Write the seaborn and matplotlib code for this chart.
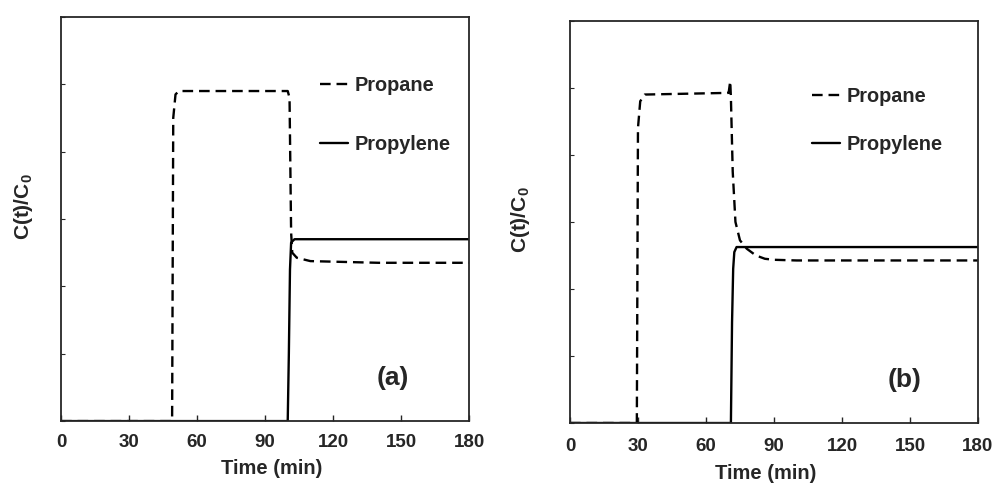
"""Propane / propylene breakthrough curves, panels (a) and (b)"""
import matplotlib
matplotlib.use("Agg")
import matplotlib.pyplot as plt
import seaborn as sns

# panel (a): time (min) and C(t)/C0
a_propane_t = [0, 49, 49.5, 50.5, 52, 100, 100.8, 101.5, 102, 104, 110, 140, 180]
a_propane_c = [0, 0, 0.90, 0.97, 0.98, 0.98, 0.96, 0.56, 0.50, 0.485, 0.475, 0.47, 0.47]
a_propylene_t = [0, 100, 100.5, 101, 101.5, 103, 180]
a_propylene_c = [0, 0, 0.20, 0.45, 0.53, 0.54, 0.54]

# panel (b)
b_propane_t = [0, 29.5, 30, 31, 33, 70, 70.7, 71, 71.8, 73, 75, 78, 82, 86, 90, 100, 180]
b_propane_c = [0, 0, 0.88, 0.96, 0.98, 0.985, 1.02, 0.97, 0.75, 0.60, 0.545, 0.52, 0.50, 0.49, 0.487, 0.485, 0.485]
b_propylene_t = [0, 71, 71.5, 72, 72.5, 73.5, 180]
b_propylene_c = [0, 0, 0.30, 0.46, 0.51, 0.525, 0.525]

x_ticks = [0, 30, 60, 90, 120, 150, 180]
y_ticks = [0, 0.2, 0.4, 0.6, 0.8, 1.0, 1.2]
panel_tags = ["(a)", "(b)"]

sns.set_style("ticks")
plt.rcParams['font.family'] = ['Liberation Sans', 'DejaVu Sans']
plt.rcParams['font.weight'] = 'bold'
plt.rcParams['mathtext.fontset'] = 'custom'
plt.rcParams['mathtext.rm'] = 'Liberation Sans:bold'
plt.rcParams['mathtext.bf'] = 'Liberation Sans:bold'

fig = plt.figure(figsize=(9.94, 4.84), dpi=100)
ax_a = fig.add_axes([0.0614, 0.130, 0.4105, 0.835])
ax_b = fig.add_axes([0.5734, 0.126, 0.4105, 0.831])

panels = [
    (ax_a, a_propane_t, a_propane_c, a_propylene_t, a_propylene_c),
    (ax_b, b_propane_t, b_propane_c, b_propylene_t, b_propylene_c),
]
# layout tweaks per panel (axes fraction)
ylabel_xy = [(-0.064, 0.53), (-0.094, 0.505)]
xlabel_xy = [(0.517, -0.093), (0.48, -0.103)]
tag_xy = [(0.814, 0.106), (0.819, 0.107)]
legend_xy = [(0.635, 0.855), (0.593, 0.836)]
legend_spacing = [2.05, 1.45]
tick_pad = [9, 11]

for i, (ax, pt, pc, yt, yc) in enumerate(panels):
    sns.lineplot(x=pt, y=pc, ax=ax, color='black', sort=False, estimator=None,
                 linestyle=(0, (4.5, 2.5)), linewidth=1.7, label='Propane')
    sns.lineplot(x=yt, y=yc, ax=ax, color='black', sort=False, estimator=None,
                 linewidth=1.7, label='Propylene')

    ax.set_xlim(0, 180)
    ax.set_ylim(0, 1.2)
    ax.set_xticks(x_ticks)
    ax.set_yticks(y_ticks)
    ax.set_yticklabels([])
    ax.tick_params(axis='x', direction='in', length=4, width=1, labelsize=13.5, pad=tick_pad[i])
    ax.tick_params(axis='y', direction='in', length=3, width=0.8)
    for lab in ax.get_xticklabels():
        lab.set_fontweight('bold')
    for sp in ax.spines.values():
        sp.set_visible(True)
        sp.set_linewidth(1.3)

    ax.set_xlabel('Time (min)', fontsize=14.5, fontweight='bold')
    ax.set_ylabel(r'C(t)/C$_\mathbf{0}$', fontsize=15, fontweight='bold')
    ax.xaxis.set_label_coords(*xlabel_xy[i])
    ax.yaxis.set_label_coords(*ylabel_xy[i])

    ax.text(*tag_xy[i], panel_tags[i], transform=ax.transAxes, ha='center', va='center',
            fontsize=19, fontweight='bold')

    ax.legend(loc='upper left', bbox_to_anchor=legend_xy[i], frameon=False,
              borderpad=0, borderaxespad=0, handlelength=1.4, handletextpad=0.35,
              labelspacing=legend_spacing[i], prop={'size': 14.3, 'weight': 'bold'})

fig.savefig('out.png', dpi=100)
plt.close(fig)
